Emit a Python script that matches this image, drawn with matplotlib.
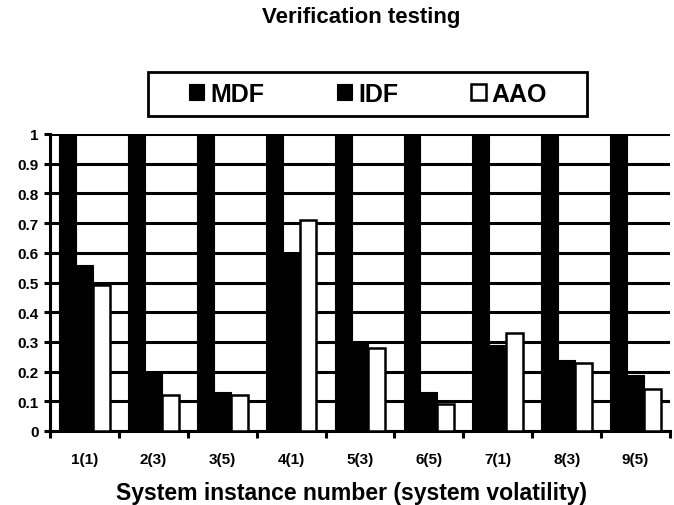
import matplotlib
matplotlib.use("Agg")
import matplotlib.pyplot as plt
from matplotlib.patches import Rectangle
import numpy as np

categories = ["1(1)", "2(3)", "3(5)", "4(1)", "5(3)", "6(5)", "7(1)", "8(3)", "9(5)"]
mdf = [1.0, 1.0, 1.0, 1.0, 1.0, 1.0, 1.0, 1.0, 1.0]
idf = [0.56, 0.20, 0.13, 0.60, 0.30, 0.13, 0.29, 0.24, 0.19]
aao = [0.49, 0.12, 0.12, 0.71, 0.28, 0.09, 0.33, 0.23, 0.14]
yticks = [0, 0.1, 0.2, 0.3, 0.4, 0.5, 0.6, 0.7, 0.8, 0.9, 1]
ytick_labels = ["0", "0.1", "0.2", "0.3", "0.4", "0.5", "0.6", "0.7", "0.8", "0.9", "1"]

plt.rcParams['font.family'] = ['Liberation Sans', 'DejaVu Sans']
plt.rcParams['font.weight'] = 'bold'

W, H = 674, 506
fig = plt.figure(figsize=(W / 100, H / 100), dpi=100)
ax = fig.add_axes([50 / W, 1 - 432 / H, 620 / W, 297 / H])

x = np.arange(len(categories))
w = 0.245
ax.bar(x - w, mdf, w, color='black', edgecolor='black', linewidth=0.8, label='MDF', zorder=3)
ax.bar(x, idf, w, color='black', edgecolor='black', linewidth=0.8, label='IDF', zorder=3)
ax.bar(x + w, aao, w, color='white', edgecolor='black', linewidth=1.8, label='AAO', zorder=3)

ax.set_xlim(-0.5, len(categories) - 0.5)
ax.set_ylim(0, 1)
ax.set_yticks(yticks)
ax.set_yticklabels(ytick_labels, fontsize=11, fontweight='bold')
ax.set_xticks(x)
ax.set_xticklabels(categories, fontsize=11, fontweight='bold')
ax.tick_params(axis='x', which='major', length=0, pad=15)
ax.set_xticks(np.arange(len(categories) + 1) - 0.5, minor=True)
ax.tick_params(axis='x', which='minor', length=5, width=2.2, direction='out')
ax.tick_params(axis='y', length=4, width=2.2, direction='out', pad=4)

ax.yaxis.grid(True, color='black', linewidth=2.2, zorder=0)
ax.set_axisbelow(True)
for s in ['top', 'right']:
    ax.spines[s].set_visible(False)
ax.spines['left'].set_linewidth(2.2)
ax.spines['bottom'].set_linewidth(2.2)

ax.set_xlabel("System instance number (system volatility)", fontsize=16.6,
              fontweight='bold', labelpad=11)
ax.xaxis.label.set_x((351 - 50) / 620)
fig.text(361 / W, 1 - 17 / H, "Verification testing", fontsize=16, fontweight='bold',
         ha='center', va='center')

# legend frame
fig.patches.append(Rectangle((148 / W, 1 - 117 / H), 439 / W, 44 / H,
                             transform=fig.transFigure, facecolor='white',
                             edgecolor='black', linewidth=2, zorder=0))
leg = fig.legend(loc='center', bbox_to_anchor=(368 / W, 1 - 95 / H),
                 ncol=3, frameon=False, columnspacing=2.9,
                 handlelength=0.6, handleheight=0.6, handletextpad=0.25,
                 borderaxespad=0, prop={'weight': 'bold', 'size': 18})

fig.savefig("out.png", dpi=100)
